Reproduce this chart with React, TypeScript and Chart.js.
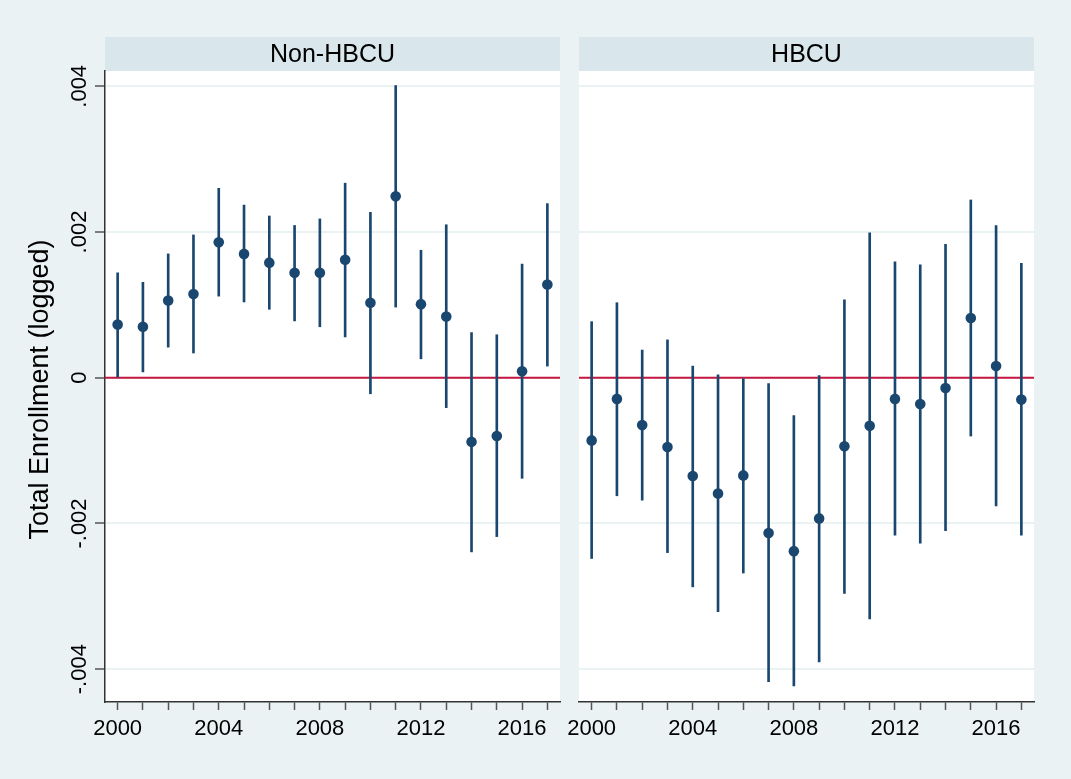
import React, { useEffect, useRef } from 'react';
import { Chart, registerables } from 'chart.js';

Chart.register(...registerables);

// ---------- data ----------
const years = [2000, 2001, 2002, 2003, 2004, 2005, 2006, 2007, 2008, 2009, 2010, 2011, 2012, 2013, 2014, 2015, 2016, 2017];
const xTickLabels = [2000, 2004, 2008, 2012, 2016];
const yTickValues = [-0.004, -0.002, 0, 0.002, 0.004];
const yTickLabels = ['-.004', '-.002', '0', '.002', '.004'];
const panelTitles = ['Non-HBCU', 'HBCU'];
const yTitle = 'Total Enrollment (logged)';

const nonEst = [0.00073, 0.00070, 0.00106, 0.00115, 0.00186, 0.00170, 0.00158, 0.00144, 0.00144, 0.00162, 0.00103, 0.00249, 0.00101, 0.00084, -0.00088, -0.00080, 0.00009, 0.00128];
const nonLo = [0.00001, 0.00008, 0.00042, 0.00034, 0.00112, 0.00104, 0.00094, 0.00078, 0.00070, 0.00056, -0.00022, 0.00097, 0.00026, -0.00041, -0.00239, -0.00218, -0.00138, 0.00016];
const nonHi = [0.00144, 0.00131, 0.00170, 0.00196, 0.00260, 0.00237, 0.00222, 0.00209, 0.00218, 0.00267, 0.00227, 0.00401, 0.00175, 0.00210, 0.00062, 0.00059, 0.00156, 0.00239];

const hbcuEst = [-0.00086, -0.00029, -0.00065, -0.00095, -0.00135, -0.00159, -0.00134, -0.00213, -0.00238, -0.00193, -0.00094, -0.00066, -0.00029, -0.00036, -0.00014, 0.00082, 0.00016, -0.00030];
const hbcuLo = [-0.00248, -0.00162, -0.00168, -0.00240, -0.00287, -0.00321, -0.00268, -0.00417, -0.00423, -0.00390, -0.00296, -0.00331, -0.00216, -0.00227, -0.00210, -0.00080, -0.00176, -0.00216];
const hbcuHi = [0.00077, 0.00103, 0.00038, 0.00052, 0.00016, 0.00004, 0.00000, -0.00008, -0.00052, 0.00003, 0.00107, 0.00199, 0.00159, 0.00155, 0.00183, 0.00244, 0.00209, 0.00157];

const X_MIN = 1999.5;
const X_MAX = 2017.5;
const Y_MIN = -0.00445;
const Y_MAX = 0.00421;

// ---------- style ----------
const FONT = "'Liberation Sans', Arial, Helvetica, sans-serif";
const NAVY = '#1a476f';
const RED = '#c4173f';
const BG = '#eaf2f3';
const STRIP = '#d9e6eb';
const GRID = '#eaf2f3';
const AXIS = '#333333';

function buildConfig(title: string, est: number[], lo: number[], hi: number[], isLeft: boolean): any {
  const decor = {
    id: 'panelDecor',
    beforeDraw(chart: any) {
      const { ctx, chartArea: a } = chart;
      ctx.save();
      ctx.fillStyle = '#ffffff';
      ctx.fillRect(a.left, a.top, a.right - a.left, a.bottom - a.top);
      ctx.fillStyle = STRIP;
      ctx.fillRect(a.left, 37, a.right - a.left, a.top - 37);
      ctx.fillStyle = '#000000';
      ctx.font = `25px ${FONT}`;
      ctx.textAlign = 'center';
      ctx.textBaseline = 'alphabetic';
      ctx.fillText(title, (a.left + a.right) / 2, 62);
      ctx.restore();
    },
    afterDraw(chart: any) {
      if (!isLeft) return;
      const { ctx, chartArea: a } = chart;
      const ys = chart.scales.y;
      ctx.save();
      ctx.fillStyle = '#000000';
      ctx.textAlign = 'center';
      ctx.textBaseline = 'alphabetic';
      ctx.font = `22px ${FONT}`;
      yTickValues.forEach((v, i) => {
        const py = ys.getPixelForValue(v);
        ctx.save();
        ctx.translate(a.left - 19, py);
        ctx.rotate(-Math.PI / 2);
        ctx.fillText(yTickLabels[i], 0, 0);
        ctx.restore();
      });
      ctx.font = `27px ${FONT}`;
      ctx.translate(48, (a.top + a.bottom) / 2 + 3);
      ctx.rotate(-Math.PI / 2);
      ctx.fillText(yTitle, 0, 0);
      ctx.restore();
    },
  };

  return {
    type: 'bar',
    data: {
      datasets: [
        {
          type: 'line',
          data: [{ x: X_MIN, y: 0 }, { x: X_MAX, y: 0 }],
          borderColor: RED,
          borderWidth: 2,
          pointRadius: 0,
          order: 3,
        },
        {
          type: 'bar',
          data: years.map((yr, i) => ({ x: yr, y: [lo[i], hi[i]] })),
          backgroundColor: NAVY,
          borderWidth: 0,
          barThickness: 2,
          order: 2,
        },
        {
          type: 'scatter',
          data: years.map((yr, i) => ({ x: yr, y: est[i] })),
          backgroundColor: NAVY,
          borderWidth: 0,
          pointRadius: 5.3,
          showLine: false,
          order: 1,
        },
      ],
    },
    options: {
      responsive: false,
      maintainAspectRatio: false,
      animation: false,
      layout: {
        padding: isLeft
          ? { top: 71, right: 10, left: 0, bottom: 0 }
          : { top: 71, right: 37, left: 0, bottom: 0 },
      },
      plugins: {
        legend: { display: false },
        tooltip: { enabled: false },
      },
      scales: {
        x: {
          type: 'linear',
          min: X_MIN,
          max: X_MAX,
          offset: false,
          afterBuildTicks: (s: any) => {
            s.ticks = years.map((v) => ({ value: v }));
          },
          afterFit: (s: any) => {
            s.height = 77;
            s.paddingLeft = 0;
            s.paddingRight = 0;
          },
          grid: {
            display: true,
            drawOnChartArea: false,
            drawTicks: true,
            tickLength: 8,
            tickColor: '#555555',
            tickWidth: 1.5,
            offset: false,
          },
          border: { display: true, color: AXIS, width: 1.5 },
          ticks: {
            autoSkip: false,
            maxRotation: 0,
            minRotation: 0,
            padding: 6,
            color: '#000000',
            font: { family: FONT, size: 22 },
            callback: (v: any) => (xTickLabels.includes(Number(v)) ? String(v) : ''),
          },
        },
        y: {
          type: 'linear',
          min: Y_MIN,
          max: Y_MAX,
          beginAtZero: false,
          afterBuildTicks: (s: any) => {
            s.ticks = yTickValues.map((v) => ({ value: v }));
          },
          afterFit: (s: any) => {
            s.width = isLeft ? 105 : 19;
          },
          grid: {
            color: GRID,
            lineWidth: 2,
            drawTicks: isLeft,
            tickLength: 10,
            tickColor: '#555555',
            tickWidth: 1.5,
          },
          border: { display: isLeft, color: AXIS, width: 1.5 },
          ticks: { display: false },
        },
      },
    },
    plugins: [decor],
  };
}

export default function App() {
  const leftRef = useRef<HTMLCanvasElement | null>(null);
  const rightRef = useRef<HTMLCanvasElement | null>(null);

  useEffect(() => {
    const charts: Chart[] = [];
    if (leftRef.current) {
      charts.push(new Chart(leftRef.current, buildConfig(panelTitles[0], nonEst, nonLo, nonHi, true)));
    }
    if (rightRef.current) {
      charts.push(new Chart(rightRef.current, buildConfig(panelTitles[1], hbcuEst, hbcuLo, hbcuHi, false)));
    }
    return () => {
      charts.forEach((c) => c.destroy());
    };
  }, []);

  return (
    <div
      style={{
        position: 'fixed',
        left: 0,
        top: 0,
        width: 1071,
        height: 779,
        background: BG,
        overflow: 'hidden',
      }}
    >
      <canvas
        ref={leftRef}
        width={570}
        height={779}
        style={{ position: 'absolute', left: 0, top: 0, width: 570, height: 779 }}
      />
      <canvas
        ref={rightRef}
        width={511}
        height={779}
        style={{ position: 'absolute', left: 560, top: 0, width: 511, height: 779 }}
      />
    </div>
  );
}
